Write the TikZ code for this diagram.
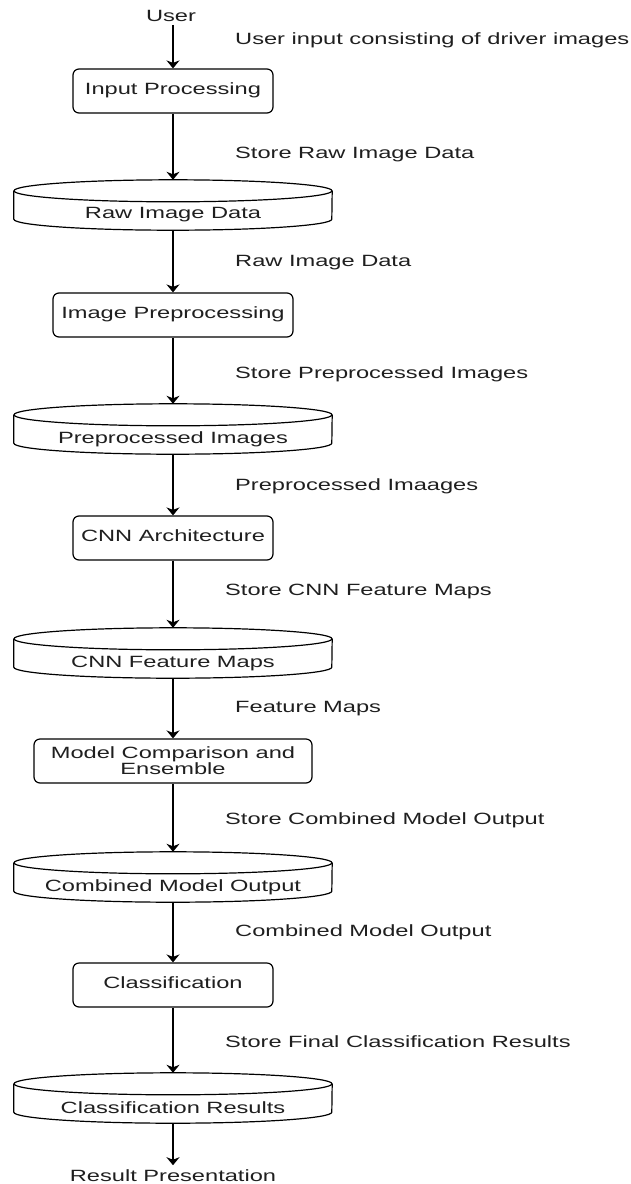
\documentclass[tikz,border=0pt]{standalone}
\usepackage{fontspec}
\setmainfont[FakeStretch=1.45]{Liberation Sans}
\usetikzlibrary{arrows.meta,calc}
\begin{document}
\begin{tikzpicture}[x=1pt,y=-1pt,
  every node/.style={font=\fontsize{16.3}{16}\selectfont, text=black!88},
  boxbase/.style={draw, line width=1.2pt, rounded corners=6pt, inner sep=0pt,
    minimum height=44pt, align=center},
  box/.style={boxbase, text height=0.716em, text depth=0pt},
  db/.style={draw=none, inner sep=0pt, minimum width=318pt, minimum height=50pt},
  lbl/.style={anchor=west, inner sep=0pt, text height=0.716em, text depth=0pt},
  endtxt/.style={inner sep=0pt, text height=0.716em, text depth=0pt},
  arr/.style={draw, line width=1.3pt, -{Stealth[length=8pt,width=13pt,inset=2.5pt]}},
  cylline/.style={draw, line width=1.2pt}
]
\useasboundingbox (0,0) rectangle (631,1184);
\fill[white] (0,0) rectangle (631,1184);

\newcommand\drawcyl[1]{%
  \draw[cylline] ($(#1.north)+(0,11)$) ellipse [x radius=159pt, y radius=11pt];
  \draw[cylline] ($(#1.north west)+(0,11)$) -- ($(#1.south west)+(0,-11)$)
     arc[start angle=180, end angle=360, x radius=159pt, y radius=11pt]
     -- ($(#1.north east)+(0,11)$);
}

% nodes
\node[endtxt] (user) at (171,18) {User};
\node[box, minimum width=200pt] (inp) at (173,91) {Input Processing};
\node[db, label={[yshift=-10pt]center:Raw Image Data}] (raw) at (173,205) {};
\node[box, minimum width=240pt] (ipp) at (173,315) {Image Preprocessing};
\node[db, label={[yshift=-10pt]center:Preprocessed Images}] (pre) at (173,429) {};
\node[box, minimum width=200pt] (cnn) at (173,538) {CNN Architecture};
\node[db, label={[yshift=-10pt]center:CNN Feature Maps}] (fmap) at (173,653) {};
\node[boxbase, minimum width=278pt] (mce) at (173,761) {Model Comparison and\\Ensemble};
\node[db, label={[yshift=-10pt]center:Combined Model Output}] (comb) at (173,877) {};
\node[box, minimum width=200pt] (cls) at (173,985) {Classification};
\node[db, label={[yshift=-10pt]center:Classification Results}] (res) at (173,1098) {};
\node[endtxt] (out) at (173,1178) {Result Presentation};

\drawcyl{raw}
\drawcyl{pre}
\drawcyl{fmap}
\drawcyl{comb}
\drawcyl{res}

% connectors
\draw[arr, shorten <=3pt] (user.south -| inp.north) -- (inp.north);
\draw[arr] (inp) -- (raw.north);
\draw[arr] (raw.south) -- (ipp);
\draw[arr] (ipp) -- (pre.north);
\draw[arr] (pre.south) -- (cnn);
\draw[arr] (cnn) -- (fmap.north);
\draw[arr] (fmap.south) -- (mce);
\draw[arr] (mce) -- (comb.north);
\draw[arr] (comb.south) -- (cls);
\draw[arr] (cls) -- (res.north);
\draw[arr, shorten >=9pt] (res.south) -- (out.north);

% connector labels
\node[lbl] (l1) at (235,41) {User input consisting of driver images};
\node[lbl] (l2) at (235,155) {Store Raw Image Data};
\node[lbl] (l3) at (235,263) {Raw Image Data};
\node[lbl] (l4) at (235,375) {Store Preprocessed Images};
\node[lbl] (l5) at (235,487) {Preprocessed Imaages};
\node[lbl] (l6) at (225,592) {Store CNN Feature Maps};
\node[lbl] (l7) at (235,709) {Feature Maps};
\node[lbl] (l8) at (225,821) {Store Combined Model Output};
\node[lbl] (l9) at (235,933) {Combined Model Output};
\node[lbl] (l10) at (225,1044) {Store Final Classification Results};
\end{tikzpicture}
\end{document}
